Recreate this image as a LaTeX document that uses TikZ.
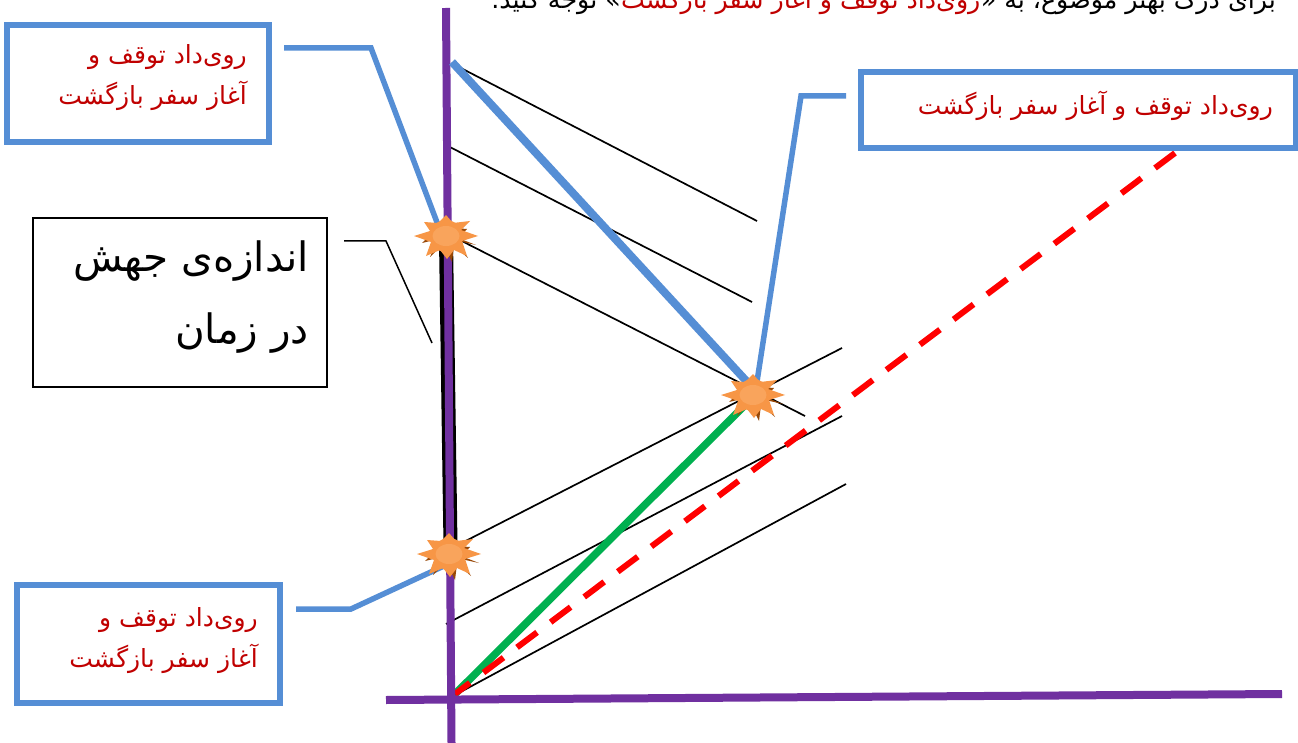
\documentclass[tikz,border=0pt]{standalone}
\usepackage{fontspec}
\setmainfont{Liberation Sans}
\newfontfamily\arabicfont[Script=Arabic]{DejaVu Sans}
\TeXXeTstate=1
\usetikzlibrary{shapes.geometric,calc}
\definecolor{axisp}{HTML}{7030A0}
\definecolor{callblue}{HTML}{558ED5}
\definecolor{mygreen}{HTML}{00B050}
\definecolor{darkred}{HTML}{C00000}
\definecolor{burst}{HTML}{F79646}
\definecolor{burstdark}{HTML}{984807}
\definecolor{burstlight}{HTML}{F9A45C}
\tikzset{
  x=1pt,y=-1pt,
  axisline/.style={draw=axisp,line width=8pt},
  thin line/.style={draw=black,line width=1.7pt},
  world/.style={draw=callblue,line width=8pt},
  callout/.style={draw=callblue,line width=5.5pt,miter limit=10},
  bluebox/.style={draw=callblue,line width=6pt,fill=white,inner sep=0pt,outer sep=0pt},
  blackbox/.style={draw=black,line width=1.5pt,fill=white,inner sep=0pt,outer sep=0pt},
  redtext/.style={text=darkred,font=\arabicfont\fontsize{25}{41}\selectfont,align=right,anchor=north east,inner sep=0pt},
  blacktext/.style={text=black,font=\arabicfont\fontsize{40.5}{72}\selectfont,align=right,anchor=north east,inner sep=0pt},
  toptext/.style={anchor=base east,inner sep=0pt,font=\arabicfont\fontsize{25.3}{30}\selectfont},
  burstcore/.style={ellipse,minimum width=27pt,minimum height=20pt,inner sep=0pt,fill=burstlight,draw=none},
}
\newcommand{\bboxat}[6]{% name, x1,y1,x2,y2, style
  \node[#6,minimum width=#4pt-#2pt,minimum height=#5pt-#3pt,anchor=north west] (#1) at (#2,#3) {};
}
\newcommand{\burstat}[3]{%
  \begin{scope}[shift={(#2,#3)}]
  \fill[burstdark] (30,9)--(12,2)--(21,-7)--(8,-8)--(-8,-8)--(-24,7)--(-8,3)--(-16,21)--(-3,8)--(6,26)--(8,10)--(22,22)--(12,5)--cycle;
  \fill[burst] (0,-21)--(7,-13)--(24,-15)--(15,-6)--(32,0)--(16,5)--(21,20)--(8,14)--(1,23)--(-6,14)--(-20,20)--(-15,6)--(-32,0)--(-16,-5)--(-22,-14)--(-8,-13)--cycle;
  \fill[burst] (0,0) circle[radius=16];
  \node[burstcore] (#1) at (0,0) {};
  \end{scope}
}
\begin{document}
\begin{tikzpicture}
\useasboundingbox (0,0) rectangle (1298,743);
\clip (0,0) rectangle (1298,743);
\fill[white] (0,0) rectangle (1298,743);
% coordinates
\coordinate (vt) at (446,8); \coordinate (vb) at (451.5,743);
\coordinate (hl) at (386,700); \coordinate (hr) at (1282,694);
\coordinate (jt) at (446,240); \coordinate (jb) at (450.5,545);
\coordinate (o) at (455,694); \coordinate (far) at (1175,153);
\coordinate (bt) at (452,62);
\coordinate (a1) at (455,65); \coordinate (a2) at (757,221);
\coordinate (b1) at (444,144); \coordinate (b2) at (752,302);
\coordinate (c1) at (450,235); \coordinate (c2) at (805,416);
\coordinate (d1) at (448,550); \coordinate (d2) at (842,348);
\coordinate (f1) at (446,624); \coordinate (f2) at (842,416);
\coordinate (g1) at (455,695); \coordinate (g2) at (846,484);
% thin
\draw[thin line] (a1)--(a2); \draw[thin line] (b1)--(b2); \draw[thin line] (c1)--(c2);
\draw[thin line] (d1)--(d2); \draw[thin line] (f1)--(f2); \draw[thin line] (g1)--(g2);
% jump
\draw[draw=black,line width=14pt] (jt)--(jb);
% world lines (before the axes)
\draw[draw=mygreen,line width=7.5pt] (o)--(745,405);
\draw[draw=red,line width=6pt,dash pattern=on 25pt off 17pt,dash phase=6.4pt] (o)--(far);
% axes
\draw[axisline] (vt)--(vb);
\draw[axisline] (hl)--(hr);
\draw[world] (bt)--(750,385);
% boxes
\bboxat{boxA}{7}{25}{268.5}{142}{bluebox}
\bboxat{boxB}{861}{72}{1296}{148}{bluebox}
\bboxat{boxC}{17}{585}{280}{703}{bluebox}
\bboxat{boxJ}{33}{218}{327}{387}{blackbox}
% callouts
\coordinate (ca) at (284,48); \coordinate (cb) at (846,96); \coordinate (cc) at (296,609); \coordinate (cj) at (344,241);
\draw[callout] (ca)--(371,48)--(438,225);
\draw[callout] (cb)--(801,96)--(756,388);
\draw[callout] (cc)--(351,609)--(446,565);
\draw[draw=black,line width=1.5pt] (cj)--(386,241)--(432,343);
% bursts
\burstat{burstA}{446}{236}
\burstat{burstB}{753}{395}
\burstat{burstC}{449}{554}
% text
\node[redtext] (ta) at (247,44) {\beginR روی‌داد توقف و\endR\\\beginR آغاز سفر بازگشت\endR};
\node[redtext] (tb) at (1273,91) {\beginR روی‌داد توقف و آغاز سفر بازگشت\endR};
\node[redtext] (tc) at (258,607) {\beginR روی‌داد توقف و\endR\\\beginR آغاز سفر بازگشت\endR};
\node[blacktext] (tj) at (309,241) {\beginR اندازه‌ی جهش\endR\\\beginR در زمان\endR};
\node[toptext] (topr) at (1276,9) {\beginR برای درک بهتر موضوع، به «\endR};
\node[toptext,text=darkred] (topm) at (topr.base west) {\beginR روی‌داد توقف و آغاز سفر بازگشت\endR};
\node[toptext] (topl) at (topm.base west) {\beginR» توجه کنید.\endR};
\end{tikzpicture}
\end{document}
